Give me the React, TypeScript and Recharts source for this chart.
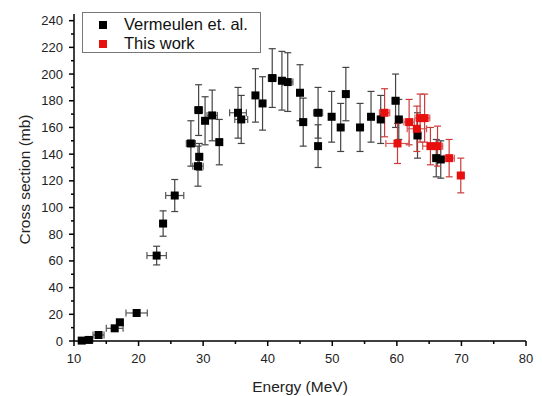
import React from 'react';
import { ScatterChart, Scatter, XAxis, YAxis, ErrorBar, Label } from 'recharts';

// Vermeulen et. al. : energy (MeV), cross section (mb), x error, y error
const vermeulenX = [11.2, 12.3, 13.8, 16.3, 17.1, 19.7, 22.8, 23.8, 25.6, 28.1, 29.3, 29.4, 29.2, 30.3, 31.4, 32.5, 35.4, 35.9, 38.1, 39.2, 40.7, 42.2, 43.1, 45.0, 45.5, 47.8, 47.8, 49.9, 51.3, 52.1, 54.3, 56.0, 57.5, 59.8, 60.3, 63.2, 66.1, 66.8];
const vermeulenY = [0.3, 0.8, 4.5, 9.5, 14, 21, 64, 88, 109, 148, 173, 138, 131, 165, 169, 149, 171, 166, 184, 178, 197, 195, 194, 186, 164, 171, 146, 168, 160, 185, 160, 168, 166, 180, 166, 154, 137, 136];
const vermeulenEx = [0.5, 0.6, 0.85, 1.3, 0.5, 1.65, 1.5, 0.5, 1.4, 0.7, 0.6, 0.5, 0.8, 0.5, 0.8, 0.4, 1.3, 1.0, 0.4, 0.4, 0.6, 0.4, 0.8, 0.5, 0.5, 0.7, 0.4, 0.4, 0.4, 0.4, 0.5, 0.4, 0.4, 0.5, 0.5, 0.5, 0.5, 0.5];
const vermeulenEy = [0.3, 0.5, 1, 1, 1.5, 2, 7, 9.5, 12, 17, 19, 10, 15, 18, 19, 17, 19, 18, 20, 20, 22, 22, 22, 21, 18, 19, 16, 19, 18, 20, 18, 19, 18, 20, 15, 17, 14, 14];

// This work
const thisWorkX = [58.1, 60.1, 61.9, 63.1, 63.6, 64.3, 65.2, 66.3, 68.1, 69.9];
const thisWorkY = [171, 148, 164, 159, 167, 167, 146, 146, 137, 124];
const thisWorkEx = [0.8, 1.8, 0.8, 1.5, 0.8, 0.8, 1.2, 0.8, 0.8, 0.5];
const thisWorkEy = [18, 15, 17, 17, 18, 18, 14, 15, 14, 13];

const xTicks = [10, 15, 20, 25, 30, 35, 40, 45, 50, 55, 60, 65, 70, 75, 80];
const yTicks = [0, 10, 20, 30, 40, 50, 60, 70, 80, 90, 100, 110, 120, 130, 140, 150, 160, 170, 180, 190, 200, 210, 220, 230, 240];

const vermeulen = vermeulenX.map((x, i) => ({ x, y: vermeulenY[i], ex: vermeulenEx[i], ey: vermeulenEy[i] }));
const thisWork = thisWorkX.map((x, i) => ({ x, y: thisWorkY[i], ex: thisWorkEx[i], ey: thisWorkEy[i] }));

const FONT = '"Liberation Sans", Arial, sans-serif';

const XTick = (props: any) => {
  const { x, y, payload } = props;
  const major = payload.value % 10 === 0;
  return (
    <g>
      <line x1={x} x2={x} y1={y} y2={y + (major ? 5 : 3)} stroke="#000" strokeWidth={1.5} />
      {major && (
        <text x={x} y={y + 22} textAnchor="middle" fontSize={13} fill="#222" fontFamily={FONT}>
          {payload.value}
        </text>
      )}
    </g>
  );
};

const YTick = (props: any) => {
  const { x, y, payload } = props;
  const major = payload.value % 20 === 0;
  return (
    <g>
      <line x1={x} x2={x - (major ? 5 : 3)} y1={y} y2={y} stroke="#000" strokeWidth={1.5} />
      {major && (
        <text x={x - 11} y={y + 4.5} textAnchor="end" fontSize={13} fill="#222" fontFamily={FONT}>
          {payload.value}
        </text>
      )}
    </g>
  );
};

export default function App() {
  return (
    <div style={{ position: 'absolute', left: 0, top: 0, width: 542, height: 396, background: '#fff' }}>
      <ScatterChart width={542} height={396} margin={{ top: 14, right: 16, bottom: 10, left: 19 }}>
        <XAxis
          type="number"
          dataKey="x"
          domain={[10, 80]}
          ticks={xTicks}
          interval={0}
          tickSize={0}
          tickMargin={0}
          tick={<XTick />}
          height={45}
          axisLine={{ stroke: '#000', strokeWidth: 1.5 }}
          tickLine={false}
        >
          <Label
            content={(p: any) => {
              const vb = p.viewBox;
              return (
                <text x={vb.x + vb.width / 2} y={vb.y + 51} textAnchor="middle" fontSize={15.5} fill="#222" fontFamily={FONT}>
                  Energy (MeV)
                </text>
              );
            }}
          />
        </XAxis>
        <YAxis
          type="number"
          dataKey="y"
          domain={[0, 245]}
          ticks={yTicks}
          interval={0}
          tickSize={0}
          tickMargin={0}
          tick={<YTick />}
          width={55}
          axisLine={{ stroke: '#000', strokeWidth: 1.5 }}
          tickLine={false}
        >
          <Label
            content={(p: any) => {
              const vb = p.viewBox;
              const cx = vb.x + 11;
              const cy = vb.y + vb.height / 2 + 2;
              return (
                <text x={cx} y={cy} textAnchor="middle" fontSize={15.5} fill="#222" fontFamily={FONT} transform={`rotate(-90 ${cx} ${cy})`}>
                  Cross section (mb)
                </text>
              );
            }}
          />
        </YAxis>
        <Scatter data={vermeulen} fill="#000" shape="square" isAnimationActive={false}>
          <ErrorBar dataKey="ey" direction="y" width={3.5} stroke="#444" strokeWidth={1.2} />
          <ErrorBar dataKey="ex" direction="x" width={3.5} stroke="#555" strokeWidth={1.2} />
        </Scatter>
        <Scatter data={thisWork} fill="#e8100f" shape="square" isAnimationActive={false}>
          <ErrorBar dataKey="ey" direction="y" width={3.5} stroke="#cc3a3a" strokeWidth={1.2} />
          <ErrorBar dataKey="ex" direction="x" width={3.5} stroke="#d45555" strokeWidth={1.2} />
        </Scatter>
      </ScatterChart>
      <div
        style={{
          position: 'absolute',
          left: 82,
          top: 12,
          width: 179,
          height: 41,
          border: '1px solid #777',
          fontFamily: FONT,
          fontSize: 16.5,
          color: '#111',
          boxSizing: 'border-box',
        }}
      >
        <div style={{ position: 'absolute', left: 16, top: 8, width: 8, height: 8, background: '#000' }} />
        <div style={{ position: 'absolute', left: 41, top: 2, lineHeight: '19px', whiteSpace: 'nowrap' }}>Vermeulen et. al.</div>
        <div style={{ position: 'absolute', left: 16, top: 27, width: 8, height: 8, background: '#e8100f' }} />
        <div style={{ position: 'absolute', left: 41, top: 21, lineHeight: '19px', whiteSpace: 'nowrap' }}>This work</div>
      </div>
    </div>
  );
}
